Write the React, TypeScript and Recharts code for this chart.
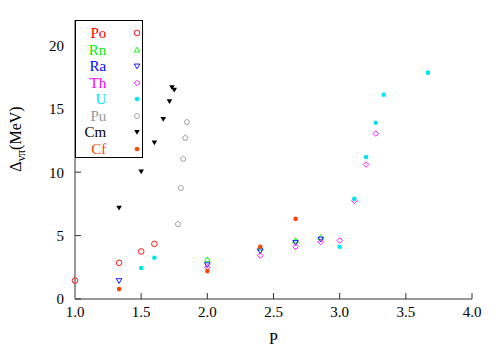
import { ScatterChart, Scatter, XAxis, YAxis, Legend } from "recharts";

// P = ratio, D = Δνπ in MeV
const P_PO = [1.0, 1.333, 1.5, 1.6];
const D_PO = [1.45, 2.85, 3.75, 4.35];
const P_RN = [2.0, 2.4, 2.667, 2.857];
const D_RN = [3.1, 4.0, 4.6, 4.85];
const P_RA = [1.333, 2.0, 2.4, 2.667, 2.857];
const D_RA = [1.45, 2.7, 3.8, 4.45, 4.72];
const P_TH = [2.0, 2.4, 2.667, 2.857, 3.0, 3.111, 3.2, 3.273];
const D_TH = [2.5, 3.42, 4.12, 4.5, 4.62, 7.75, 10.6, 13.05];
const P_U = [1.5, 1.6, 3.0, 3.111, 3.2, 3.273, 3.333, 3.667];
const D_U = [2.45, 3.25, 4.12, 7.9, 11.2, 13.9, 16.1, 17.85];
const P_PU = [1.778, 1.8, 1.818, 1.833, 1.846];
const D_PU = [5.9, 8.75, 11.05, 12.7, 13.95];
const P_CM = [1.333, 1.5, 1.6, 1.667, 1.714, 1.733, 1.75];
const D_CM = [7.2, 10.05, 12.35, 14.2, 15.6, 16.7, 16.5];
const P_CF = [1.333, 2.0, 2.4, 2.667];
const D_CF = [0.78, 2.2, 4.12, 6.32];

const X_TICKS = [1.0, 1.5, 2.0, 2.5, 3.0, 3.5, 4.0];
const Y_TICKS = [0, 5, 10, 15, 20];

type Kind = "circle" | "up" | "down" | "diamond" | "dot" | "pentagon" | "downFill";

const zip = (xs: number[], ys: number[]) => xs.map((x, i) => ({ x, y: ys[i] }));

const SERIES: { name: string; color: string; kind: Kind; data: { x: number; y: number }[] }[] = [
  { name: "Po", color: "#ff0000", kind: "circle", data: zip(P_PO, D_PO) },
  { name: "Rn", color: "#00ee00", kind: "up", data: zip(P_RN, D_RN) },
  { name: "Ra", color: "#0000ff", kind: "down", data: zip(P_RA, D_RA) },
  { name: "Th", color: "#ff00ff", kind: "diamond", data: zip(P_TH, D_TH) },
  { name: "U", color: "#00e5ee", kind: "dot", data: zip(P_U, D_U) },
  { name: "Pu", color: "#999999", kind: "pentagon", data: zip(P_PU, D_PU) },
  { name: "Cm", color: "#000000", kind: "downFill", data: zip(P_CM, D_CM) },
  { name: "Cf", color: "#ff4500", kind: "dot", data: zip(P_CF, D_CF) },
];

const FONT = "'Liberation Serif', 'DejaVu Serif', serif";

const Marker = ({ cx, cy, kind, color }: { cx: number; cy: number; kind: Kind; color: string }) => {
  const r = 2.8;
  const open = { fill: "none", stroke: color, strokeWidth: 0.9 };
  switch (kind) {
    case "circle":
      return <circle cx={cx} cy={cy} r={r} {...open} />;
    case "up":
      return <polygon points={`${cx},${cy - r} ${cx + r},${cy + r * 0.7} ${cx - r},${cy + r * 0.7}`} {...open} />;
    case "down":
      return <polygon points={`${cx - r},${cy - r * 0.7} ${cx + r},${cy - r * 0.7} ${cx},${cy + r}`} {...open} />;
    case "downFill":
      return <polygon points={`${cx - r},${cy - r * 0.7} ${cx + r},${cy - r * 0.7} ${cx},${cy + r}`} fill={color} />;
    case "diamond":
      return <polygon points={`${cx},${cy - r} ${cx + r},${cy} ${cx},${cy + r} ${cx - r},${cy}`} {...open} />;
    case "pentagon": {
      const pts = [0, 1, 2, 3, 4]
        .map((k) => {
          const a = ((-90 + 72 * k) * Math.PI) / 180;
          return `${cx + r * Math.cos(a)},${cy + r * Math.sin(a)}`;
        })
        .join(" ");
      return <polygon points={pts} {...open} />;
    }
    default:
      return <circle cx={cx} cy={cy} r={2.3} fill={color} />;
  }
};

const LegendBox = () => (
  <div
    style={{
      width: 68,
      height: 138,
      boxSizing: "border-box",
      border: "1px solid #000",
      background: "#fff",
      paddingTop: 4,
      fontFamily: FONT,
      fontSize: 15,
    }}
  >
    {SERIES.map((s) => (
      <div key={s.name} style={{ display: "flex", alignItems: "center", height: 16.5 }}>
        <span style={{ width: 31, textAlign: "right", color: s.color, lineHeight: "16px" }}>{s.name}</span>
        <svg width={10} height={10} style={{ marginLeft: 26 }}>
          <Marker cx={5} cy={5} kind={s.kind} color={s.color} />
        </svg>
      </div>
    ))}
  </div>
);

const axisLine = { stroke: "#999", strokeWidth: 2 };
const tickLine = { stroke: "#333" };

export default function App() {
  return (
    <div style={{ position: "absolute", left: 0, top: 0, background: "#fff" }}>
      <ScatterChart width={500} height={350} margin={{ top: 20, right: 28, bottom: 0, left: 0 }} style={{ fontFamily: FONT }}>
        <XAxis
          type="number"
          dataKey="x"
          domain={[1, 4]}
          ticks={X_TICKS}
          tickFormatter={(v: number) => v.toFixed(1)}
          height={51}
          axisLine={axisLine}
          tickLine={tickLine}
          tickSize={-6}
          tickMargin={13}
          tick={{ fill: "#000", fontSize: 15, fontFamily: FONT }}
          label={{ value: "P", position: "insideBottom", offset: 6, fill: "#000", fontSize: 16, fontFamily: FONT }}
        />
        <XAxis
          xAxisId="top"
          orientation="top"
          type="number"
          domain={[1, 4]}
          ticks={X_TICKS}
          height={0}
          axisLine={axisLine}
          tickLine={tickLine}
          tickSize={-6}
          tickFormatter={() => ""}
        />
        <YAxis
          type="number"
          dataKey="y"
          domain={[0, 22]}
          ticks={Y_TICKS}
          width={75}
          axisLine={axisLine}
          tickLine={tickLine}
          tickSize={-6}
          tickMargin={17}
          tick={{ fill: "#000", fontSize: 15, fontFamily: FONT }}
          label={{
            content: () => (
              <text transform="translate(21,139) rotate(-90)" textAnchor="middle" fontSize={16} fontFamily={FONT} fill="#000">
                Δ<tspan fontSize={12} dy={4}>νπ</tspan>
                <tspan dy={-4}>(MeV)</tspan>
              </text>
            ),
          }}
        />
        <YAxis
          yAxisId="right"
          orientation="right"
          type="number"
          domain={[0, 22]}
          ticks={Y_TICKS}
          width={0}
          axisLine={axisLine}
          tickLine={tickLine}
          tickSize={-6}
          tickFormatter={() => ""}
        />
        <Legend
          layout="vertical"
          align="center"
          verticalAlign="middle"
          content={() => <LegendBox />}
          wrapperStyle={{ left: 75, top: 20, width: 68, height: 138 }}
        />
        {SERIES.map((s) => (
          <Scatter
            key={s.name}
            name={s.name}
            data={s.data}
            fill={s.color}
            isAnimationActive={false}
            shape={(p: any) => <Marker cx={p.cx} cy={p.cy} kind={s.kind} color={s.color} />}
          />
        ))}
      </ScatterChart>
    </div>
  );
}
